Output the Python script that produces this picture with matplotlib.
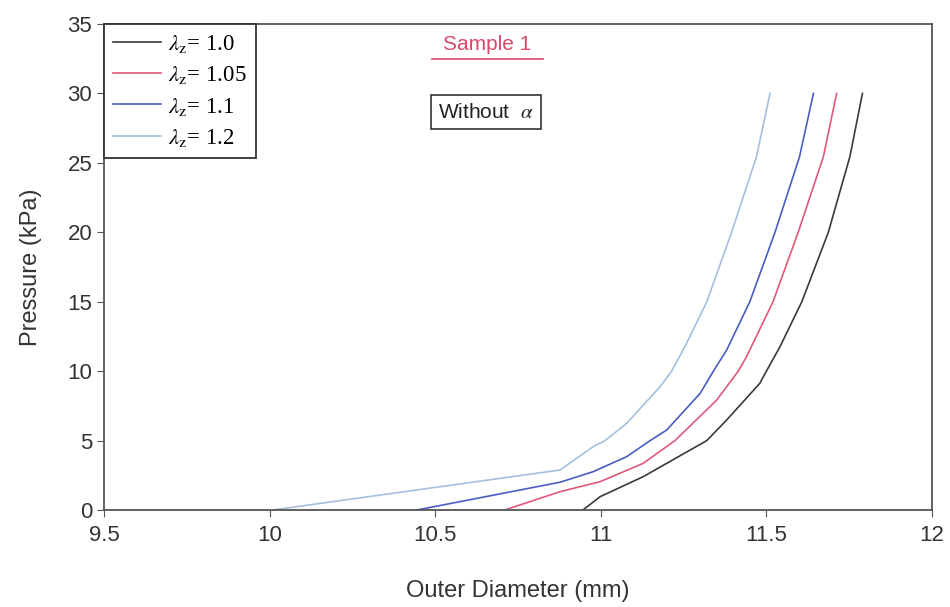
import matplotlib.pyplot as plt

# ----- DATA -----
labels = [r"$\lambda_{\rm z}$= 1.0", r"$\lambda_{\rm z}$= 1.05",
          r"$\lambda_{\rm z}$= 1.1", r"$\lambda_{\rm z}$= 1.2"]
colors = ["#3a3a3a", "#e2587a", "#4a5cc0", "#a4c0de"]

d_10 = [10.946, 10.998, 11.128, 11.32, 11.38, 11.48, 11.50, 11.541, 11.607, 11.687, 11.752, 11.79]
p_10 = [0.0, 0.96, 2.4, 5.0, 6.48, 9.12, 10.0, 11.76, 15.0, 20.0, 25.44, 30.0]

d_105 = [10.71, 10.877, 10.998, 11.128, 11.224, 11.35, 11.415, 11.44, 11.52, 11.596, 11.672, 11.712]
p_105 = [0.0, 1.32, 2.04, 3.36, 5.0, 7.92, 10.0, 11.04, 15.0, 20.0, 25.44, 30.0]

d_11 = [10.445, 10.877, 10.977, 11.078, 11.149, 11.199, 11.30, 11.34, 11.38, 11.45, 11.526, 11.60, 11.642]
p_11 = [0.0, 2.0, 2.76, 3.84, 5.0, 5.76, 8.4, 10.0, 11.52, 15.0, 20.0, 25.44, 30.0]

d_12 = [10.01, 10.877, 10.977, 11.013, 11.078, 11.179, 11.214, 11.259, 11.32, 11.395, 11.47, 11.511]
p_12 = [0.0, 2.88, 4.56, 5.0, 6.24, 8.88, 10.0, 12.0, 15.0, 20.0, 25.44, 30.0]

xs = [d_10, d_105, d_11, d_12]
ys = [p_10, p_105, p_11, p_12]

plt.rcParams["font.family"] = ["Liberation Sans", "DejaVu Sans"]
plt.rcParams["mathtext.fontset"] = "stix"

fig = plt.figure(figsize=(9.5, 6.07), dpi=100)
ax = fig.add_axes([104 / 950, 1 - 510 / 607, (932 - 104) / 950, (510 - 24) / 607])

for x, y, c, lab in zip(xs, ys, colors, labels):
    ax.plot(x, y, color=c, lw=1.2, label=lab)

ax.set_xlim(9.5, 12)
ax.set_ylim(0, 35)
ax.set_xticks([9.5, 10, 10.5, 11, 11.5, 12])
ax.set_xticklabels(["9.5", "10", "10.5", "11", "11.5", "12"])
ax.set_yticks(range(0, 36, 5))
ax.tick_params(labelsize=16, direction="out", length=5, color="#555555",
               labelcolor="#333333")
ax.tick_params(axis="x", pad=6)
for s in ax.spines.values():
    s.set_color("#555555")
    s.set_linewidth(1.3)

ax.set_xlabel("Outer Diameter (mm)", fontsize=17, labelpad=24, color="#333333")
ax.set_ylabel("Pressure (kPa)", fontsize=17, labelpad=18, color="#333333")

leg = ax.legend(loc="upper left", borderaxespad=0, fancybox=False, framealpha=1,
                edgecolor="#333333", handlelength=2.1, handletextpad=0.3,
                labelspacing=0.4, borderpad=0.4,
                prop={"family": "Liberation Serif", "size": 16.5})
leg.get_frame().set_linewidth(1.3)

ax.text((487 - 104) / 828, 1 - (45 - 24) / 486, "Sample 1", transform=ax.transAxes,
        ha="center", va="center", fontsize=15, color="#d94a6a")
ax.plot([(432 - 104) / 828, (543 - 104) / 828], [1 - (59 - 24) / 486] * 2,
        transform=ax.transAxes, color="#d94a6a", lw=1.2)

ax.text((486 - 104) / 828, 1 - (112 - 24) / 486, r"Without  $\alpha$", transform=ax.transAxes,
        ha="center", va="center", fontsize=15, color="#222222",
        bbox=dict(boxstyle="square,pad=0.35", fc="white", ec="#333333", lw=1.2))

fig.savefig("out.png", dpi=100)
